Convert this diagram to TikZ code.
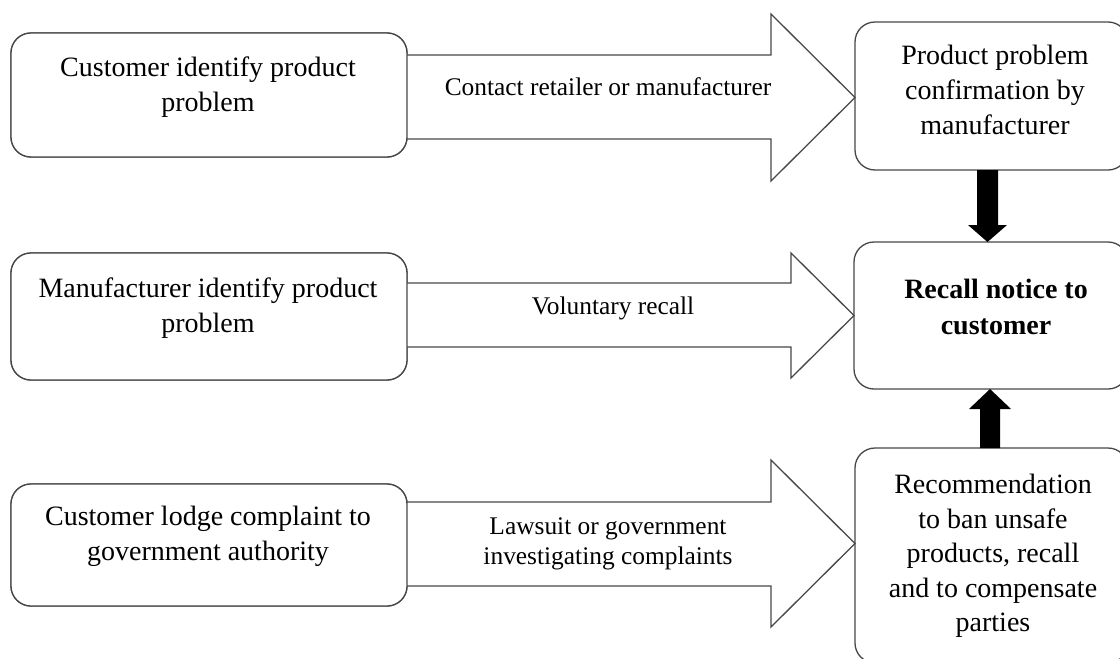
\documentclass[tikz,border=0pt]{standalone}
\usepackage{fontspec}
\setmainfont{Liberation Serif}
\usetikzlibrary{calc}
\begin{document}
\begin{tikzpicture}[x=1pt,y=-1pt,
  box/.style={draw=black!72, line width=1.3pt, rounded corners=20pt, fill=white, outer sep=0pt, inner sep=0pt},
  boxtext/.style={font=\fontsize{28}{35}\selectfont, align=center, inner sep=0pt},
  labeltext/.style={font=\fontsize{25.4}{30}\selectfont, align=center, inner sep=0pt},
  bigarrow/.style={draw=black!72, line width=1.3pt, fill=white, line join=miter},
  blackarrow/.style={fill=black}]
\clip (0,0) rectangle (1120,659);
\fill[white] (0,0) rectangle (1120,659);

% boxes (shapes first, for anchors)
\path (209,95) node[box, minimum width=396pt, minimum height=124pt] (A) {};
\path (209,316.5) node[box, minimum width=396pt, minimum height=127pt] (B) {};
\path (209,545) node[box, minimum width=396pt, minimum height=122pt] (C) {};
\path (991.5,96) node[box, minimum width=273pt, minimum height=148pt] (D) {};
\path (991,315.5) node[box, minimum width=274pt, minimum height=147pt] (R) {};
\path (991.5,555.5) node[box, minimum width=273pt, minimum height=215pt] (E) {};

% block arrows
\draw[bigarrow] (A.east |- 0,55) -- (771,55) -- (771,14) -- (D.west |- 0,97.5) -- (771,181) -- (771,139) -- (A.east |- 0,139);
\draw[bigarrow] (B.east |- 0,283) -- (791,283) -- (791,253) -- (R.west) -- (791,378) -- (791,347) -- (B.east |- 0,347);
\draw[bigarrow] (C.east |- 0,502) -- (771,502) -- (771,460) -- (E.west |- 0,543.5) -- (771,627) -- (771,586) -- (C.east |- 0,586);

% redraw boxes on top so their edges are crisp
\path (209,95) node[box, minimum width=396pt, minimum height=124pt] {};
\path (209,316.5) node[box, minimum width=396pt, minimum height=127pt] {};
\path (209,545) node[box, minimum width=396pt, minimum height=122pt] {};

% black arrows
\coordinate (d0) at ($(D.south)+(-4,0)$);
\coordinate (d1) at (d0 |- R.north);
\fill[blackarrow] ($(d0)+(-10.5,0)$) -- ($(d1)+(-10.5,-17)$) -- ($(d1)+(-19.5,-17)$) -- (d1) -- ($(d1)+(19.5,-17)$) -- ($(d1)+(10.5,-17)$) -- ($(d0)+(10.5,0)$) -- cycle;
\coordinate (u0) at ($(E.north)+(-1.5,0)$);
\coordinate (u1) at (u0 |- R.south);
\fill[blackarrow] ($(u0)+(-10,0)$) -- ($(u1)+(-10,20)$) -- ($(u1)+(-21,20)$) -- (u1) -- ($(u1)+(21,20)$) -- ($(u1)+(10,20)$) -- ($(u0)+(10,0)$) -- cycle;

% texts
\node[boxtext] (At) at (208,87) {Customer identify product\\problem};
\node[boxtext] (Bt) at (208,308) {Manufacturer identify product\\problem};
\node[boxtext] (Ct) at (208,536) {Customer lodge complaint to\\government authority};
\node[boxtext] (Dt) at (995,90) {Product problem\\confirmation by\\manufacturer};
\node[boxtext, font=\fontsize{28}{36}\selectfont\bfseries] (Rt) at (996,307) {Recall notice to\\customer};
\node[boxtext, font=\fontsize{28}{34.5}\selectfont] (Et) at (993,556) {Recommendation\\to ban unsafe\\products, recall\\and to compensate\\parties};

\node[labeltext] (L1) at (608,87) {Contact retailer or manufacturer};
\node[labeltext] (L2) at (613,308) {Voluntary recall};
\node[labeltext] (L3) at (608,544) {Lawsuit or government\\investigating complaints};
\end{tikzpicture}
\end{document}
